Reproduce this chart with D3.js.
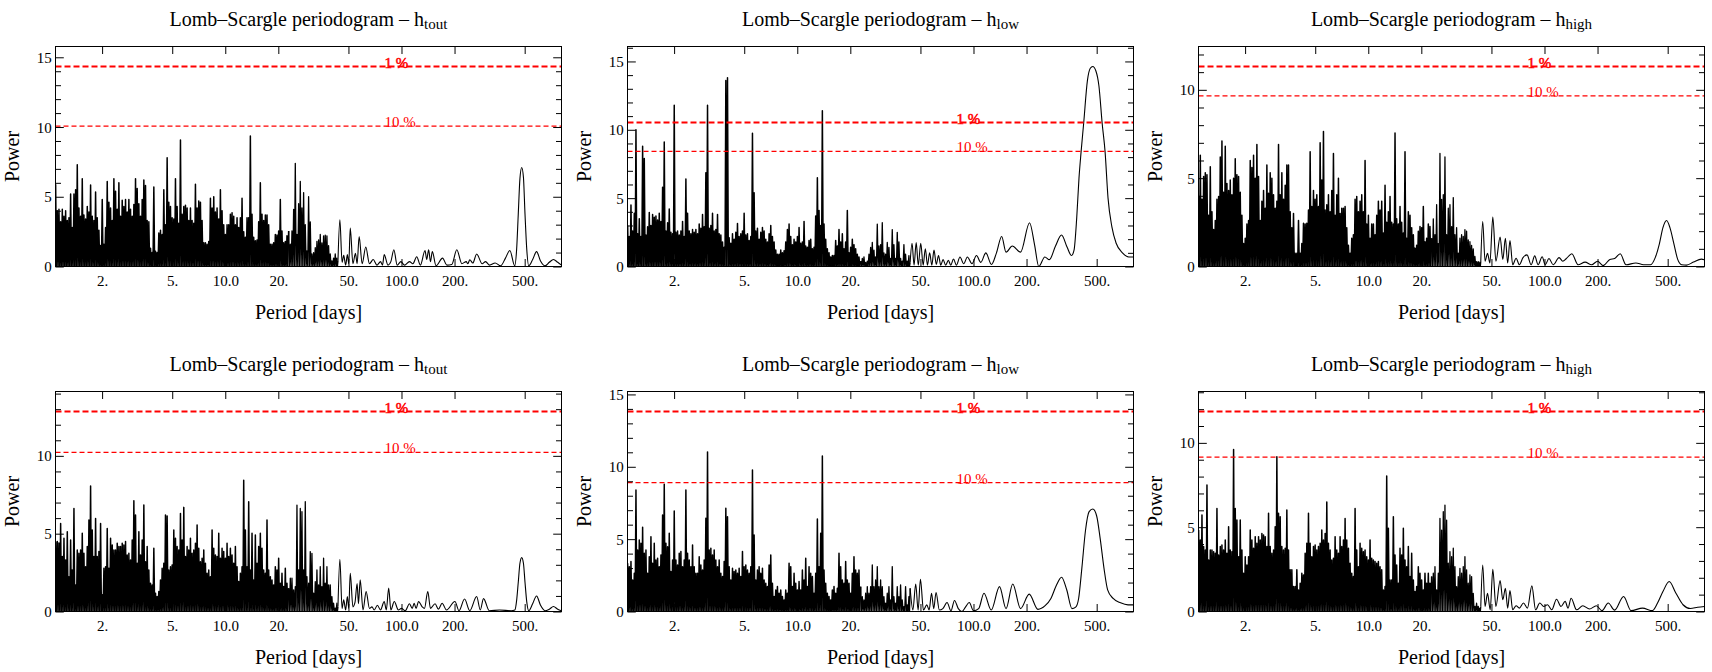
<!DOCTYPE html>
<html>
<head>
<meta charset="utf-8">
<title>Lomb–Scargle periodograms</title>
<script src="https://cdn.jsdelivr.net/npm/d3@7/dist/d3.min.js"></script>
<style>
  html, body { margin: 0; padding: 0; background: #fff; }
  svg { display: block; }
  text { font-family: "Liberation Serif", "Times New Roman", Times, serif; }
</style>
</head>
<body>
<svg id="chart" width="1712" height="672"></svg>
<script>
// Short-period band (1.09 – 43 d): one local maximum per step of a log-uniform period grid.
const denseFromDays = 1.09;
const denseToDays = 43.0;

// ---- top row ----
const topToutDense = [
  5.9, 4.0, 4.1, 3.2, 4.1, 3.6, 4.0, 3.3, 3.5, 5.2,
  2.8, 5.2, 5.5, 7.3, 4.2, 3.6, 6.3, 3.7, 3.4, 4.3,
  3.9, 5.85, 3.6, 3.3, 5.35, 3.5, 2.6, 1.5, 4.8, 1.6,
  2.8, 6.1, 4.6, 4.2, 3.3, 6.3, 5.4, 4.1, 6.0, 3.6,
  4.75, 4.3, 4.8, 3.9, 4.8, 4.1, 3.6, 4.45, 6.3, 5.6,
  4.5, 3.6, 4.8, 6.2, 5.8, 3.3, 3.2, 1.3, 1.0, 5.7,
  1.1, 1.0, 2.4, 2.6, 2.3, 5.5, 3.0, 7.8, 4.6, 4.3,
  3.5, 3.4, 6.3, 4.3, 3.1, 9.07, 3.75, 4.3, 4.4, 4.2,
  3.3, 4.2, 3.3, 3.1, 5.9, 4.2, 4.7, 4.6, 3.3, 1.7,
  1.7, 1.6, 1.8, 4.9, 4.2, 5.0, 3.9, 4.2, 3.4, 5.5,
  4.0, 3.0, 2.3, 3.0, 3.0, 3.75, 3.85, 3.6, 3.0, 3.5,
  2.8, 3.5, 4.9, 2.5, 2.1, 3.5, 3.5, 9.36, 3.75, 2.1,
  1.84, 1.9, 3.2, 6.0, 3.75, 3.3, 3.7, 3.7, 3.0, 1.6,
  1.6, 1.7, 2.3, 2.25, 2.55, 4.8, 2.55, 1.7, 1.8, 2.2,
  2.55, 1.6, 2.55, 4.1, 7.4, 2.3, 4.5, 6.1, 4.2, 5.3,
  3.0, 1.12, 5.0, 3.2, 0.9, 1.0, 1.35, 1.8, 1.9, 2.3,
  1.7, 2.2, 2.25, 2.2, 1.5, 0.9, 0.4, 0.6, 0.9, 0.6
];
const topToutTail = [
  [43.6, 0.4], [44.7, 3.35], [46, 0.3], [47, 0.8], [48.2, 0.1], [49.3, 0.85], [50.2, 0.2],
  [51.2, 2.75], [53, 0.2], [54.8, 0.95], [56, 0.2], [57.5, 2.15], [59.8, 0.2], [62.7, 1.4],
  [65.8, 0.2], [69.1, 0.5], [72.5, 0.1], [76.1, 0.35], [78, 0.1], [79.8, 0.85], [83.8, 0.1],
  [87, 0.35], [90.5, 1.2], [94.5, 0.1], [99.2, 0.35], [104, 0.1], [111, 0.35], [116, 0.2],
  [122, 0.7], [128, 0.1], [136, 1.15], [139, 0.5], [142.6, 1.2], [146, 0.35], [149.6, 1.07],
  [157, 0.05], [171, 0.6], [181, 0.1], [193, 0.15], [206, 1.2], [220, 0.2], [233, 0.35],
  [238, 0.2], [244, 0.48], [254, 0.25], [267, 0.9], [287, 0.2], [300, 0.35], [316, 0.1],
  [340, 0.25], [365, 0.05], [389, 0.6], [412, 1.15], [439, 0.05], [450, 1.2], [460, 3.8],
  [470, 6.3], [481, 7.1], [492, 6.4], [502, 3.8], [514, 1.2], [527, 0.05], [555, 0.5],
  [584, 1.07], [615, 0.4], [652, 0.05], [690, 0.3], [728, 0.5], [770, 0.3], [809, 0.1]
];

const topLowDense = [
  3.0, 2.2, 4.5, 2.6, 3.9, 10.0, 2.4, 3.5, 2.2, 8.8,
  7.9, 2.3, 2.9, 3.95, 3.0, 3.8, 3.6, 3.7, 3.4, 3.9,
  3.3, 5.8, 9.1, 2.6, 3.2, 4.2, 2.5, 2.4, 11.8, 2.5,
  2.6, 2.3, 2.6, 3.3, 2.2, 6.4, 3.9, 2.6, 2.4, 2.7,
  2.5, 2.7, 2.4, 3.1, 2.8, 3.8, 2.9, 6.85, 11.8, 2.8,
  3.0, 3.9, 2.6, 2.7, 3.8, 2.4, 2.3, 1.8, 1.4, 13.6,
  13.8, 2.1, 1.7, 2.4, 2.0, 2.5, 3.15, 2.2, 2.4, 2.6,
  3.9, 2.3, 2.4, 1.9, 2.2, 9.75, 5.4, 2.6, 2.8, 2.0,
  2.5, 2.86, 2.6, 2.0, 1.8, 2.4, 3.0, 2.2, 1.8, 1.2,
  0.9, 0.9, 1.2, 1.0, 1.15, 1.8, 2.7, 3.1, 2.2, 1.6,
  2.0, 1.8, 2.2, 2.86, 1.7, 1.8, 3.3, 1.5, 1.4, 1.9,
  2.0, 1.3, 1.4, 3.7, 6.5, 4.1, 3.0, 11.4, 3.1, 2.0,
  1.3, 1.0, 0.7, 0.8, 0.8, 1.9, 1.5, 2.7, 1.8, 2.4,
  1.3, 1.8, 4.1, 1.0, 1.4, 2.0, 1.6, 1.3, 0.9, 0.7,
  0.4, 0.6, 0.7, 0.3, 0.4, 0.9, 1.4, 1.76, 1.2, 0.7,
  3.1, 1.5, 1.6, 3.2, 1.0, 0.9, 1.76, 1.4, 0.6, 2.7,
  1.6, 0.6, 2.5, 1.8, 0.6, 0.4, 1.6, 0.9, 0.4, 0.8
];
const topLowTail = [
  [43.7, 0.3], [44.8, 1.7], [46, 0.1], [47.3, 1.75], [48.6, 0.1], [50.2, 1.7], [51.8, 0.1],
  [53.3, 1.3], [54.8, 0.1], [56.4, 1.0], [58, 0.1], [59.7, 1.2], [61.5, 0.15], [63.3, 0.8],
  [65.2, 0.1], [67.2, 0.5], [69.5, 0.1], [72, 0.45], [74.3, 0.1], [77, 0.55], [80, 0.1],
  [83.8, 0.7], [88, 0.2], [92.3, 0.7], [98, 0.2], [104, 0.8], [110, 0.3], [117.5, 1.0],
  [126.4, 0.15], [135, 1.0], [144.5, 2.2], [153, 1.05], [166, 1.5], [185, 1.05], [208, 3.2],
  [222, 1.6], [234.6, 0.0], [254, 0.7], [269.5, 0.5], [292, 1.5], [315.8, 2.3], [340, 1.4],
  [359.6, 0.8], [372, 1.2], [385, 3.5], [397, 6.5], [408, 8.4], [422, 10.5], [443, 13.6],
  [460, 14.5], [475, 14.63], [495, 14.3], [515, 13.2], [537, 10.5], [558, 8.4], [580, 5.0],
  [610, 2.9], [645, 1.7], [700, 1.0], [760, 0.7], [809, 0.7]
];

const topHighDense = [
  4.0, 6.3, 3.8, 5.1, 5.3, 5.2, 2.9, 5.65, 3.1, 2.1,
  2.6, 3.8, 3.96, 6.2, 7.1, 4.2, 6.8, 4.7, 4.3, 4.9,
  4.06, 5.0, 6.1, 5.2, 5.1, 4.2, 2.9, 1.3, 1.6, 2.4,
  2.6, 6.0, 5.6, 6.3, 5.0, 6.9, 5.1, 2.6, 3.7, 4.3,
  3.3, 5.75, 4.15, 5.3, 5.0, 4.06, 3.3, 3.7, 6.9, 4.06,
  5.3, 3.8, 4.6, 5.75, 5.75, 3.1, 2.2, 3.0, 0.75, 0.75,
  2.6, 0.75, 1.3, 2.45, 2.4, 2.45, 3.2, 6.5, 3.4, 4.3,
  3.8, 4.06, 3.4, 7.0, 4.9, 7.64, 3.2, 3.5, 4.06, 3.1,
  4.3, 6.4, 2.9, 4.06, 5.0, 3.0, 3.3, 3.3, 3.4, 2.2,
  1.2, 0.75, 1.6, 1.8, 3.8, 3.96, 3.1, 3.7, 4.06, 3.1,
  6.0, 2.4, 2.9, 1.6, 2.4, 2.4, 1.8, 2.9, 3.7, 3.2,
  3.7, 1.9, 4.6, 2.5, 3.1, 3.96, 2.5, 2.4, 7.55, 2.7,
  2.4, 3.4, 2.5, 1.9, 6.5, 1.6, 3.1, 2.9, 2.2, 1.8,
  1.04, 1.2, 2.0, 2.26, 2.2, 3.4, 1.4, 1.6, 2.4, 2.26,
  1.6, 2.7, 1.8, 3.5, 1.3, 6.4, 3.8, 4.06, 6.2, 1.8,
  3.3, 3.5, 2.26, 3.9, 1.8, 2.2, 0.75, 1.6, 1.8, 1.7,
  2.08, 2.0, 1.5, 1.4, 1.2, 1.0, 0.57, 0.28, 0.28, 0.25
];
const topHighTail = [
  [43.5, 0.3], [44.6, 2.55], [46, 0.3], [47.5, 0.75], [49, 0.2], [50.9, 2.8], [53, 0.3],
  [56, 1.66], [58, 0.4], [60, 1.6], [61.8, 0.2], [63.7, 1.47], [66, 0.1], [69, 0.47],
  [72, 0.1], [75.5, 0.5], [79.6, 0.66], [84, 0.1], [88, 0.6], [92, 0.1], [97, 0.55],
  [101, 0.1], [106, 0.45], [112, 0.1], [121, 0.5], [127, 0.3], [133, 0.45], [143, 0.72],
  [155, 0.1], [170, 0.25], [185, 0.1], [200, 0.3], [215, 0.05], [235, 0.4], [250, 0.45],
  [269, 0.72], [290, 0.1], [330, 0.2], [365, 0.1], [400, 0.1], [425, 0.5], [449, 1.3],
  [470, 2.2], [493, 2.6], [515, 2.2], [542, 1.3], [570, 0.4], [600, 0.1], [640, 0.08],
  [700, 0.25], [777, 0.42], [809, 0.38]
];

// ---- bottom row ----
const botToutDense = [
  4.49, 4.49, 4.4, 5.66, 3.53, 4.7, 3.31, 5.13, 2.24, 4.6,
  2.67, 6.62, 1.71, 3.95, 3.74, 3.95, 5.02, 3.74, 2.88, 4.17,
  5.88, 8.06, 5.24, 3.53, 5.98, 3.53, 3.85, 5.66, 1.07, 2.78,
  2.88, 5.34, 2.78, 4.7, 4.27, 3.95, 3.95, 4.38, 4.17, 4.17,
  4.38, 4.27, 4.49, 3.63, 3.74, 3.31, 4.6, 7.12, 6.2, 3.1,
  5.13, 3.63, 4.6, 6.84, 3.2, 4.17, 2.67, 1.82, 1.71, 4.06,
  1.18, 0.96, 1.28, 2.03, 2.78, 3.1, 6.2, 6.13, 2.67, 2.88,
  2.99, 5.24, 4.7, 4.17, 3.95, 6.3, 4.6, 6.69, 3.53, 4.17,
  3.95, 4.7, 3.74, 3.95, 4.38, 5.56, 4.06, 3.2, 3.42, 3.95,
  3.1, 2.46, 2.67, 2.24, 5.24, 4.06, 3.63, 3.53, 5.02, 3.42,
  4.06, 3.85, 3.42, 4.38, 3.53, 4.06, 3.63, 3.1, 4.17, 2.88,
  1.92, 2.46, 2.88, 8.44, 5.24, 2.88, 7.05, 2.67, 5.02, 2.03,
  4.91, 3.1, 4.17, 5.02, 4.06, 2.67, 2.46, 5.88, 2.67, 2.24,
  2.03, 1.71, 2.88, 2.67, 3.42, 1.82, 2.46, 1.6, 2.78, 1.82,
  1.5, 2.14, 2.14, 1.39, 1.6, 6.84, 2.67, 6.62, 6.41, 2.67,
  7.05, 2.24, 1.82, 3.85, 3.74, 1.18, 1.92, 2.67, 1.71, 2.88,
  1.6, 3.42, 1.82, 2.88, 1.71, 1.71, 0.96, 0.53, 0.21, 0.53
];
const botToutTail = [
  [43.6, 0.3], [44.7, 3.35], [46, 0.2], [47, 0.75], [48.2, 0.1], [49.3, 0.96], [50.2, 0.2],
  [51.2, 2.46], [53, 0.3], [54.5, 0.6], [56, 1.8], [57, 0.5], [58.3, 2.03], [60.5, 0.1],
  [63, 1.28], [65.8, 0.2], [68, 0.3], [70, 0.1], [73, 0.4], [76, 0.1], [79.8, 0.64],
  [82, 0.1], [84.6, 1.5], [87, 0.1], [91, 0.64], [96, 0.1], [100, 0.2], [105, 0.05],
  [111, 0.5], [115, 0.2], [118, 0.53], [121, 0.2], [125, 0.64], [131, 0.3], [135, 0.2],
  [141, 1.28], [146, 0.2], [155, 0.5], [162, 0.15], [170, 0.53], [180, 0.1], [201, 0.64],
  [212, 0.05], [228, 0.8], [244, 0.05], [267, 0.96], [280, 0.1], [292, 0.83], [315, 0.05],
  [360, 0.1], [420, 0.05], [440, 0.1], [450, 0.7], [460, 1.9], [470, 3.1], [481, 3.46],
  [492, 3.1], [502, 1.9], [514, 0.6], [527, 0.05], [555, 0.5], [584, 1.0], [615, 0.4],
  [652, 0.05], [690, 0.15], [728, 0.32], [770, 0.15], [809, 0.05]
];

const botLowDense = [
  3.33, 3.1, 3.45, 2.18, 2.64, 8.39, 4.25, 4.94, 4.71, 5.82,
  4.02, 4.25, 2.64, 3.79, 5.17, 3.33, 4.71, 3.56, 3.68, 3.1,
  3.91, 6.67, 8.8, 4.71, 4.48, 5.4, 2.76, 3.56, 6.94, 3.56,
  3.22, 4.02, 4.14, 3.1, 3.56, 8.39, 4.02, 3.56, 3.1, 4.6,
  3.1, 2.64, 2.64, 3.79, 3.22, 2.87, 3.56, 6.44, 11.03, 4.25,
  4.37, 3.91, 4.25, 3.56, 3.1, 3.56, 2.64, 2.41, 3.45, 7.13,
  6.55, 3.1, 2.18, 2.99, 2.76, 2.87, 2.64, 2.99, 2.41, 4.14,
  3.1, 3.22, 2.87, 2.64, 3.1, 9.77, 5.29, 2.18, 2.87, 3.1,
  2.64, 2.99, 2.18, 1.95, 1.72, 3.22, 3.91, 1.95, 1.03, 1.49,
  1.72, 1.26, 1.49, 1.03, 0.8, 1.49, 1.26, 3.33, 3.1, 1.72,
  2.64, 1.95, 1.49, 2.07, 1.49, 2.87, 2.18, 3.68, 1.72, 3.1,
  2.64, 2.41, 1.26, 2.64, 6.39, 3.1, 5.4, 10.74, 2.87, 1.95,
  1.26, 1.03, 0.8, 1.49, 1.72, 1.26, 1.6, 4.02, 3.1, 2.18,
  1.95, 3.45, 2.18, 1.95, 1.26, 2.64, 3.79, 2.87, 2.64, 2.87,
  1.72, 1.03, 0.8, 1.26, 1.72, 1.26, 1.72, 3.22, 1.72, 2.18,
  3.1, 1.72, 2.18, 1.72, 1.03, 0.57, 1.26, 1.72, 0.8, 3.1,
  1.03, 0.57, 1.72, 1.03, 1.84, 0.8, 0.34, 1.72, 0.46, 1.03
];
const botLowTail = [
  [43.7, 1.6], [45.3, 0.1], [47, 1.9], [48.5, 0.1], [50, 2.23], [52, 0.1], [54.3, 0.46],
  [56, 0.1], [57.8, 1.26], [59.5, 0.2], [61.3, 1.31], [64, 0.1], [67, 0.2], [70.8, 0.62],
  [74.5, 0.05], [78, 0.76], [82, 0.2], [85.9, 0.0], [90, 0.3], [94.6, 0.62], [100, 0.05],
  [107, 0.2], [114.7, 1.26], [126, 0.1], [140.5, 1.72], [153, 0.2], [167, 1.9], [185, 0.2],
  [207, 1.2], [232, 0.15], [255, 0.4], [275, 0.9], [295, 1.8], [316, 2.37], [338, 1.5],
  [362, 0.2], [380, 0.3], [395, 0.9], [412, 3.0], [432, 5.6], [453, 6.9], [476, 7.08],
  [500, 6.6], [524, 5.0], [550, 3.0], [577, 1.5], [620, 0.9], [683, 0.6], [753, 0.46],
  [809, 0.46]
];

const botHighDense = [
  4.83, 4.24, 5.72, 3.85, 3.65, 7.5, 3.06, 3.65, 3.65, 3.55,
  3.45, 6.11, 3.35, 3.85, 3.94, 3.65, 4.24, 3.45, 5.03, 3.65,
  3.55, 9.6, 6.11, 5.42, 3.25, 5.42, 3.65, 2.27, 3.25, 2.76,
  3.25, 4.83, 4.24, 3.75, 4.44, 4.04, 4.44, 4.24, 4.63, 4.54,
  4.44, 3.85, 5.82, 3.85, 3.45, 3.65, 5.03, 9.17, 5.82, 5.62,
  3.85, 3.65, 3.75, 6.02, 3.65, 2.47, 2.47, 1.48, 1.48, 2.47,
  1.28, 1.68, 2.27, 2.17, 3.45, 4.04, 5.82, 4.04, 3.25, 3.85,
  3.94, 3.65, 3.85, 4.04, 4.83, 4.24, 4.63, 6.5, 4.04, 3.65,
  3.06, 3.16, 4.44, 3.65, 3.45, 4.44, 3.85, 4.24, 5.52, 4.24,
  3.75, 2.86, 2.27, 2.07, 6.11, 3.65, 2.66, 4.04, 3.75, 3.55,
  3.65, 3.25, 3.06, 4.24, 3.16, 3.06, 2.96, 2.86, 2.96, 2.66,
  2.47, 1.28, 1.48, 8.03, 4.93, 1.87, 1.87, 5.62, 3.35, 2.76,
  1.68, 3.75, 3.35, 4.93, 3.06, 2.66, 3.85, 2.07, 3.45, 1.87,
  1.18, 1.48, 2.66, 2.27, 1.87, 1.28, 2.27, 1.68, 2.27, 1.68,
  2.07, 2.27, 2.66, 1.28, 2.27, 5.52, 4.83, 5.92, 6.31, 5.42,
  2.86, 3.55, 3.25, 3.75, 2.66, 1.48, 2.07, 2.56, 2.27, 2.66,
  3.25, 2.47, 1.68, 2.17, 2.07, 1.08, 0.3, 0.49, 0.3, 0.2
];
const botHighTail = [
  [43.5, 0.3], [44.6, 2.76], [46, 0.3], [47.5, 1.08], [49.2, 0.1], [50.9, 2.5], [53, 0.3],
  [56, 1.83], [58, 0.7], [60, 1.38], [61.8, 0.2], [63.7, 1.24], [66, 0.1], [69, 0.34],
  [72, 0.2], [76, 0.5], [80, 0.2], [84.8, 1.52], [89, 0.1], [94, 0.5], [99, 0.3],
  [104, 0.4], [110, 0.1], [117, 0.73], [124, 0.3], [131, 0.6], [136, 0.2], [141.6, 0.79],
  [152, 0.1], [165, 0.34], [180, 0.15], [197, 0.34], [212, 0.05], [230, 0.5], [250, 0.08],
  [281, 0.89], [310, 0.05], [360, 0.2], [410, 0.05], [438, 0.5], [470, 1.18], [510, 1.78],
  [556, 1.1], [611, 0.4], [672, 0.18], [740, 0.25], [809, 0.3]
];

// False-alarm levels (1 % and 10 %) per panel
const fapLevel1 = [14.34, 10.53, 11.32, 12.85, 13.82, 11.86];
const fapLevel10 = [10.07, 8.42, 9.66, 10.22, 8.90, 9.15];
const fapLabels = ["1 %", "10 %"];

// Axes
const periodDomain = [1.088, 809];
const periodTickValues = [2, 5, 10, 20, 50, 100, 200, 500];
const periodTickLabels = ["2.", "5.", "10.0", "20.", "50.", "100.0", "200.", "500."];
const titleBase = "Lomb–Scargle periodogram – h";
const titleSubs = ["tout", "low", "high", "tout", "low", "high"];

const denseSeries = [topToutDense, topLowDense, topHighDense, botToutDense, botLowDense, botHighDense];
const tailSeries = [topToutTail, topLowTail, topHighTail, botToutTail, botLowTail, botHighTail];

// ---- layout ----
const colLeft = [55.5, 627.5, 1198.5];
const rowTop = [46.5, 391.5];
const plotW = 506, plotH = 220;
// the oscillations thin out towards longer periods: heavier stroke where they crowd
const denseStrokeBands = [[0, 140, 1.5], [140, 170, 1.3]];

const svg = d3.select("#chart");

function densePeriods(n) {
  const a = Math.log(denseFromDays), b = Math.log(denseToDays);
  return d3.range(n).map(i => Math.exp(a + (b - a) * i / (n - 1)));
}

denseSeries.forEach((dense, k) => {
  const tail = tailSeries[k];
  const left = colLeft[k % 3], top = rowTop[Math.floor(k / 3)];
  const g = svg.append("g").attr("transform", `translate(${left},${top})`);

  const x = d3.scaleLog().domain(periodDomain).range([0, plotW]);
  const vmax = Math.max(d3.max(dense), d3.max(tail, d => d[1]), fapLevel1[k]);
  const y = d3.scaleLinear().domain([0, vmax * 1.1]).range([plotH, 0]);

  const clipId = `clip${k}`;
  g.append("clipPath").attr("id", clipId)
    .append("rect").attr("width", plotW).attr("height", plotH);

  // dense band: every maximum rises from the zero floor and falls back to it
  const per = densePeriods(dense.length);
  const pts = [];
  dense.forEach((v, i) => {
    pts.push([per[i], v]);
    const next = i < dense.length - 1 ? per[i + 1] : tail[0][0];
    pts.push([Math.sqrt(per[i] * next), 0]);
  });
  pts.push(tail[0]);

  const lineLin = d3.line().x(d => x(d[0])).y(d => y(d[1]));
  const lineSmooth = d3.line().x(d => x(d[0])).y(d => y(d[1])).curve(d3.curveMonotoneX);

  const data = g.append("g").attr("clip-path", `url(#${clipId})`);
  denseStrokeBands.forEach(([i0, i1, sw]) => {
    const seg = pts.slice(2 * i0, Math.min(pts.length, 2 * i1 + 1));
    data.append("path").datum(seg)
      .attr("d", lineLin)
      .attr("fill", "none").attr("stroke", "#000")
      .attr("stroke-width", sw).attr("stroke-linejoin", "round");
  });
  data.append("path").datum(tail)
    .attr("d", lineSmooth)
    .attr("fill", "none").attr("stroke", "#000")
    .attr("stroke-width", 1.1).attr("stroke-linejoin", "round");

  // false-alarm levels
  [[fapLevel1[k], 2, "6,3"], [fapLevel10[k], 1.2, "5,3"]].forEach(([lv, sw, dash], j) => {
    g.append("line")
      .attr("x1", 0).attr("x2", plotW)
      .attr("y1", y(lv)).attr("y2", y(lv))
      .attr("stroke", "#ff0000").attr("stroke-width", sw)
      .attr("stroke-dasharray", dash);
    const t = g.append("text")
      .attr("x", x(80)).attr("y", y(lv) + 1)
      .attr("font-size", 15).attr("fill", "#ff0000")
      .text(fapLabels[j]);
    if (j === 0) t.attr("stroke", "#ff0000").attr("stroke-width", 0.5);
  });

  // frame
  g.append("rect").attr("width", plotW).attr("height", plotH)
    .attr("fill", "none").attr("stroke", "#000").attr("stroke-width", 1);

  // period axis (bottom, labelled) and mirrored ticks on top
  const gx = g.append("g").attr("transform", `translate(0,${plotH})`)
    .call(d3.axisBottom(x).tickValues(periodTickValues)
      .tickFormat((d, i) => periodTickLabels[i])
      .tickSizeInner(-7.5).tickSizeOuter(0));
  gx.select(".domain").remove();
  gx.attr("font-size", 15).attr("font-family", null);
  gx.selectAll("text").attr("y", 19.3).attr("dy", null).attr("fill", "#000");

  const gxt = g.append("g")
    .call(d3.axisTop(x).tickValues(periodTickValues).tickFormat("")
      .tickSizeInner(-7.5).tickSizeOuter(0));
  gxt.select(".domain").remove();

  // power axis: majors every 5 (labelled), minors every 1
  const ymaxDom = y.domain()[1];
  const majors = d3.range(0, ymaxDom + 1e-9, 5);
  const minors = d3.range(0, ymaxDom + 1e-9, 1).filter(v => v % 5 !== 0);

  const gy = g.append("g")
    .call(d3.axisLeft(y).tickValues(majors).tickFormat(d3.format("d"))
      .tickSizeInner(-8.3).tickSizeOuter(0).tickPadding(3.7));
  gy.select(".domain").remove();
  gy.attr("font-size", 15).attr("font-family", null);
  gy.selectAll("text").attr("fill", "#000").attr("dy", "0.34em");

  g.append("g")
    .call(d3.axisLeft(y).tickValues(minors).tickFormat("")
      .tickSizeInner(-5.5).tickSizeOuter(0))
    .select(".domain").remove();

  const gr = g.append("g").attr("transform", `translate(${plotW},0)`);
  gr.append("g")
    .call(d3.axisRight(y).tickValues(majors).tickFormat("")
      .tickSizeInner(-8.3).tickSizeOuter(0))
    .select(".domain").remove();
  gr.append("g")
    .call(d3.axisRight(y).tickValues(minors).tickFormat("")
      .tickSizeInner(-5.5).tickSizeOuter(0))
    .select(".domain").remove();

  // titles and axis labels
  const title = g.append("text")
    .attr("x", plotW / 2).attr("y", -21)
    .attr("text-anchor", "middle").attr("font-size", 20).attr("fill", "#000")
    .text(titleBase);
  title.append("tspan").attr("font-size", 15).attr("dy", 3).text(titleSubs[k]);

  g.append("text")
    .attr("x", plotW / 2).attr("y", plotH + 52.5)
    .attr("text-anchor", "middle").attr("font-size", 20).attr("fill", "#000")
    .text("Period [days]");

  g.append("text")
    .attr("transform", `translate(-37,${plotH / 2}) rotate(-90)`)
    .attr("text-anchor", "middle").attr("font-size", 20).attr("fill", "#000")
    .text("Power");
});
</script>
</body>
</html>
